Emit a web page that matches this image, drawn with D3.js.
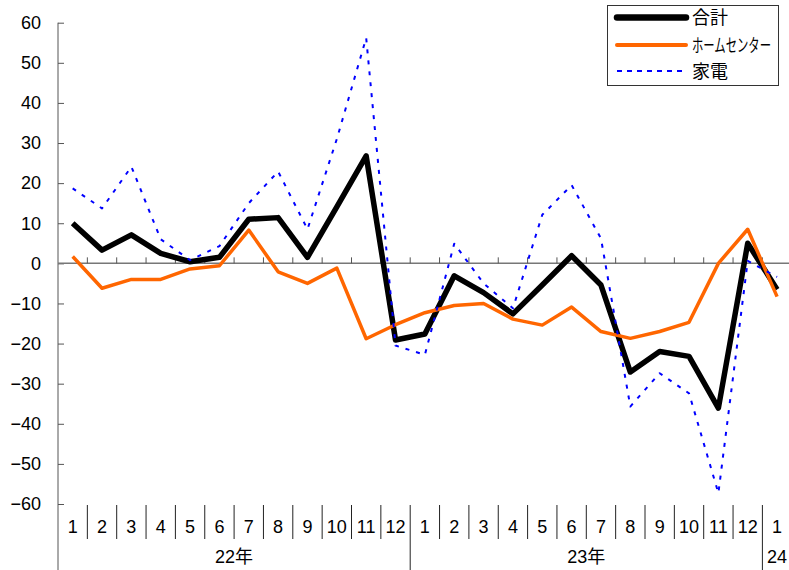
<!DOCTYPE html>
<html lang="ja">
  <head>
    <meta charset="utf-8" />
    <title>販売額 前年同月比</title>
    <script src="https://d3js.org/d3.v7.min.js"></script>
    <style>
      body {
        margin: 0;
        background: #fff;
      }
      svg text {
        font-family: "Liberation Sans", "Noto Sans CJK JP", sans-serif;
        fill: #000;
      }
    </style>
  </head>
  <body>
    <svg id="chart" width="789" height="570"></svg>
    <script>
      // 月ラベル (22年1月〜24年1月)
      const months = ["1","2","3","4","5","6","7","8","9","10","11","12",
                      "1","2","3","4","5","6","7","8","9","10","11","12","1"];
      const yearLabels = ["22年", "23年", "24"];
      const yearStart = [0, 12, 24];
      const yearSpan = [12, 12, 1];

      const seriesNames = ["合計", "ホームセンター", "家電"];
      const total = [10.0, 3.3, 7.1, 2.5, 0.4, 1.5, 11.0, 11.4, 1.5, 14.1, 26.8, -19.1,
                     -17.6, -3.1, -7.3, -12.6, -5.4, 1.9, -5.4, -27.1, -22.0, -23.2, -36.1, 5.0, -6.5];
      const homeCenter = [1.7, -6.2, -4.0, -4.0, -1.4, -0.6, 8.3, -2.1, -5.0, -1.2, -18.8, -15.3,
                          -12.3, -10.5, -10.0, -13.9, -15.4, -10.9, -17.0, -18.7, -17.0, -14.7, 0.0, 8.5, -8.3];
      const appliances = [18.7, 13.7, 24.1, 6.0, 0.8, 4.3, 15.0, 22.9, 8.5, 31.0, 56.2, -20.5,
                          -22.8, 4.9, -5.0, -11.2, 12.1, 19.5, 6.2, -35.7, -27.4, -32.4, -57.3, 0.6, -3.4];
      const yTicks = [60, 50, 40, 30, 20, 10, 0, -10, -20, -30, -40, -50, -60];

      const svg = d3.select("#chart");
      const plotLeft = 58, plotRight = 791.75, plotTop = 22.7, plotBottom = 504;

      const x = d3.scaleBand().domain(d3.range(months.length)).range([plotLeft, plotRight]).padding(0);
      const y = d3.scaleLinear().domain([-60, 60]).range([plotBottom, plotTop]);
      const cx = (i) => x(i) + x.bandwidth() / 2;

      // y 軸
      const yAxis = svg.append("g")
        .attr("transform", `translate(${plotLeft},0)`)
        .call(d3.axisLeft(y).tickValues(yTicks).tickSize(-6).tickPadding(17).tickFormat(d3.format("d")));
      yAxis.select(".domain").remove();
      yAxis.selectAll(".tick line").attr("stroke", "#555");
      yAxis.selectAll("text").style("font-size", "18px");

      svg.append("line")
        .attr("x1", plotLeft).attr("x2", plotLeft).attr("y1", plotTop).attr("y2", 570)
        .attr("stroke", "#555");

      // ゼロ線と区切り目盛り
      svg.append("line")
        .attr("x1", plotLeft).attr("x2", 789).attr("y1", y(0)).attr("y2", y(0))
        .attr("stroke", "#777").attr("stroke-width", 1.5);
      svg.append("g").selectAll("line")
        .data(d3.range(1, months.length))
        .join("line")
        .attr("x1", (i) => x(i)).attr("x2", (i) => x(i))
        .attr("y1", y(0) - 6).attr("y2", y(0))
        .attr("stroke", "#555");

      // 下部の月ラベルと区切り線
      const bottomAxis = svg.append("g");
      bottomAxis.selectAll("line.sep")
        .data(d3.range(1, months.length))
        .join("line")
        .attr("class", "sep")
        .attr("x1", (i) => x(i)).attr("x2", (i) => x(i))
        .attr("y1", 505)
        .attr("y2", (i) => (yearStart.includes(i) ? 570 : 539))
        .attr("stroke", "#222");
      bottomAxis.selectAll("text.month")
        .data(months)
        .join("text")
        .attr("class", "month")
        .attr("x", (d, i) => cx(i))
        .attr("y", 533)
        .attr("text-anchor", "middle")
        .style("font-size", "18px")
        .text((d) => d);
      bottomAxis.selectAll("text.year")
        .data(yearLabels)
        .join("text")
        .attr("class", "year")
        .attr("x", (d, i) => (x(yearStart[i]) + x(yearStart[i] + yearSpan[i] - 1) + x.bandwidth()) / 2)
        .attr("y", 563)
        .attr("text-anchor", "middle")
        .style("font-size", "18px")
        .text((d) => d);

      // 系列
      const line = d3.line().x((d, i) => cx(i)).y((d) => y(d));
      const styles = [
        { data: total, color: "#000", width: 5.5, dash: null },
        { data: homeCenter, color: "#ff6600", width: 3.5, dash: null },
        { data: appliances, color: "#0000ff", width: 2, dash: "4,7" },
      ];
      styles.forEach((s) => {
        svg.append("path")
          .datum(s.data)
          .attr("d", line)
          .attr("fill", "none")
          .attr("stroke", s.color)
          .attr("stroke-width", s.width)
          .attr("stroke-linejoin", "round")
          .attr("stroke-dasharray", s.dash);
      });

      // 凡例
      const legend = svg.append("g");
      legend.append("rect")
        .attr("x", 607.5).attr("y", 5.5).attr("width", 171).attr("height", 80)
        .attr("fill", "#fff").attr("stroke", "#333");
      const rowY = [17.5, 45, 71];
      seriesNames.forEach((name, i) => {
        legend.append("line")
          .attr("x1", 617).attr("x2", 686).attr("y1", rowY[i]).attr("y2", rowY[i])
          .attr("stroke", styles[i].color)
          .attr("stroke-width", i === 0 ? 6.5 : i === 1 ? 4 : 2)
          .attr("stroke-linecap", i === 2 ? "butt" : "round")
          .attr("stroke-dasharray", i === 2 ? "5,5" : null);
        // ホームセンター は横方向に縮めて枠内に収める
        const sx = i === 1 ? 0.63 : 1;
        legend.append("text")
          .attr("transform", `translate(692,${rowY[i] + 6.5}) scale(${sx},1)`)
          .style("font-size", "18px")
          .text(name);
      });
    </script>
  </body>
</html>
